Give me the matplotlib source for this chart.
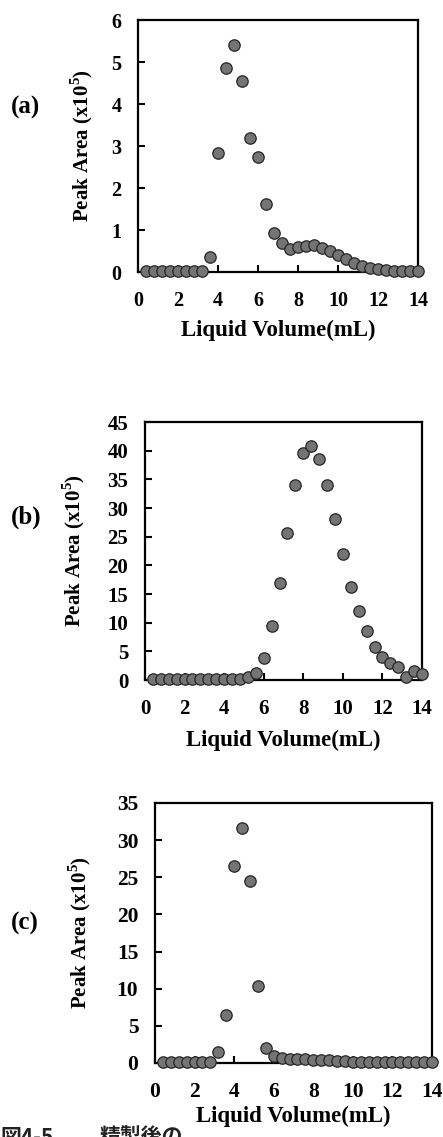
import numpy as np
import matplotlib
matplotlib.use('Agg')
import matplotlib.pyplot as plt

plt.rcParams['font.family'] = ['Liberation Serif', 'Noto Sans CJK JP']
plt.rcParams['font.weight'] = 'bold'
plt.rcParams['mathtext.fontset'] = 'custom'
plt.rcParams['mathtext.rm'] = 'Liberation Serif:bold'
plt.rcParams['mathtext.bf'] = 'Liberation Serif:bold'

# liquid volume, sampled every 0.4 mL
volume = np.round(np.arange(1, 36) * 0.4, 1)

# peak area (x10^5)
area_a = [0.02, 0.02, 0.02, 0.02, 0.02, 0.02, 0.02, 0.02, 0.35, 2.83,
          4.85, 5.40, 4.55, 3.20, 2.75, 1.63, 0.93, 0.68, 0.55, 0.60,
          0.62, 0.65, 0.58, 0.50, 0.40, 0.30, 0.22, 0.15, 0.10, 0.07,
          0.05, 0.03, 0.02, 0.02, 0.02]
area_b = [0.1, 0.1, 0.1, 0.1, 0.1, 0.1, 0.1, 0.1, 0.1, 0.1,
          0.1, 0.2, 0.5, 1.2, 3.8, 9.4, 17.0, 25.7, 34.0, 39.6,
          40.8, 38.5, 34.0, 28.0, 22.0, 16.2, 12.0, 8.5, 5.8, 4.0,
          3.0, 2.2, 0.5, 1.6, 1.0]
area_c = [0.1, 0.1, 0.1, 0.1, 0.1, 0.1, 0.1, 1.5, 6.5, 26.5,
          31.6, 24.5, 10.4, 2.0, 0.9, 0.7, 0.6, 0.55, 0.5, 0.45,
          0.45, 0.45, 0.3, 0.25, 0.2, 0.2, 0.15, 0.15, 0.1, 0.1,
          0.1, 0.1, 0.1, 0.1, 0.1]

# tag, data, ymax, ystep, axes box (px), tag pos (px), ylabel x (px), xlabel y (px), ticksize
panels = [
    ('(a)', area_a, 6, 1, [138, 20, 418, 272], (11, 107), 82, 330, 14.5),
    ('(b)', area_b, 45, 5, [145, 422, 422, 680], (11, 517), 74, 740, 15),
    ('(c)', area_c, 35, 5, [155, 803, 432, 1063], (11, 923), 80, 1116, 15.5),
]

W, H = 443, 1137
fig = plt.figure(figsize=(W / 100, H / 100), dpi=100)

for tag, area, ymax, ystep, (x0, y0, x1, y1), (tx, ty), ylab_x, xlab_y, tsize in panels:
    ax = fig.add_axes([x0 / W, 1 - y1 / H, (x1 - x0) / W, (y1 - y0) / H])
    ax.plot(volume, area, 'o', ms=8.2, mfc='#747474', mec='#262626',
            mew=0.9, clip_on=False, zorder=3)
    ax.set_xlim(0, 14)
    ax.set_ylim(0, ymax)
    ax.set_xticks(range(0, 15, 2))
    ax.set_yticks(np.arange(0, ymax + 0.1, ystep))
    ax.tick_params(direction='in', length=5, width=1.5, labelsize=tsize,
                   top=False, right=False)
    ax.tick_params(axis='x', pad=14)
    ax.tick_params(axis='y', pad=12)
    for s in ax.spines.values():
        s.set_linewidth(1.6)
    ax.set_xlabel('Liquid Volume(mL)', fontsize=16.5, fontweight='bold',
                  va='center')
    ax.set_ylabel(r'Peak Area (x10$^{5}$)', fontsize=15, fontweight='bold',
                  va='center')
    ax.yaxis.set_label_coords((ylab_x - x0) / (x1 - x0), 0.5)
    ax.xaxis.set_label_coords(0.5, (y1 - xlab_y) / (y1 - y0))
    fig.text(tx / W, 1 - ty / H, tag, fontsize=18, fontweight='bold',
             ha='left', va='center')

# caption below the last panel, cut off by the page edge as in the source
cap_font = ['Noto Sans CJK JP', 'DejaVu Sans']
fig.text(0 / W, 1 - 1127 / H, '図4-5', fontsize=15, family=cap_font,
         va='top', ha='left', color='#222222', zorder=0)
fig.text(100 / W, 1 - 1127 / H, '精製後の', fontsize=15, family=cap_font,
         va='top', ha='left', color='#222222', zorder=0)

fig.savefig('out.png', dpi=100)
